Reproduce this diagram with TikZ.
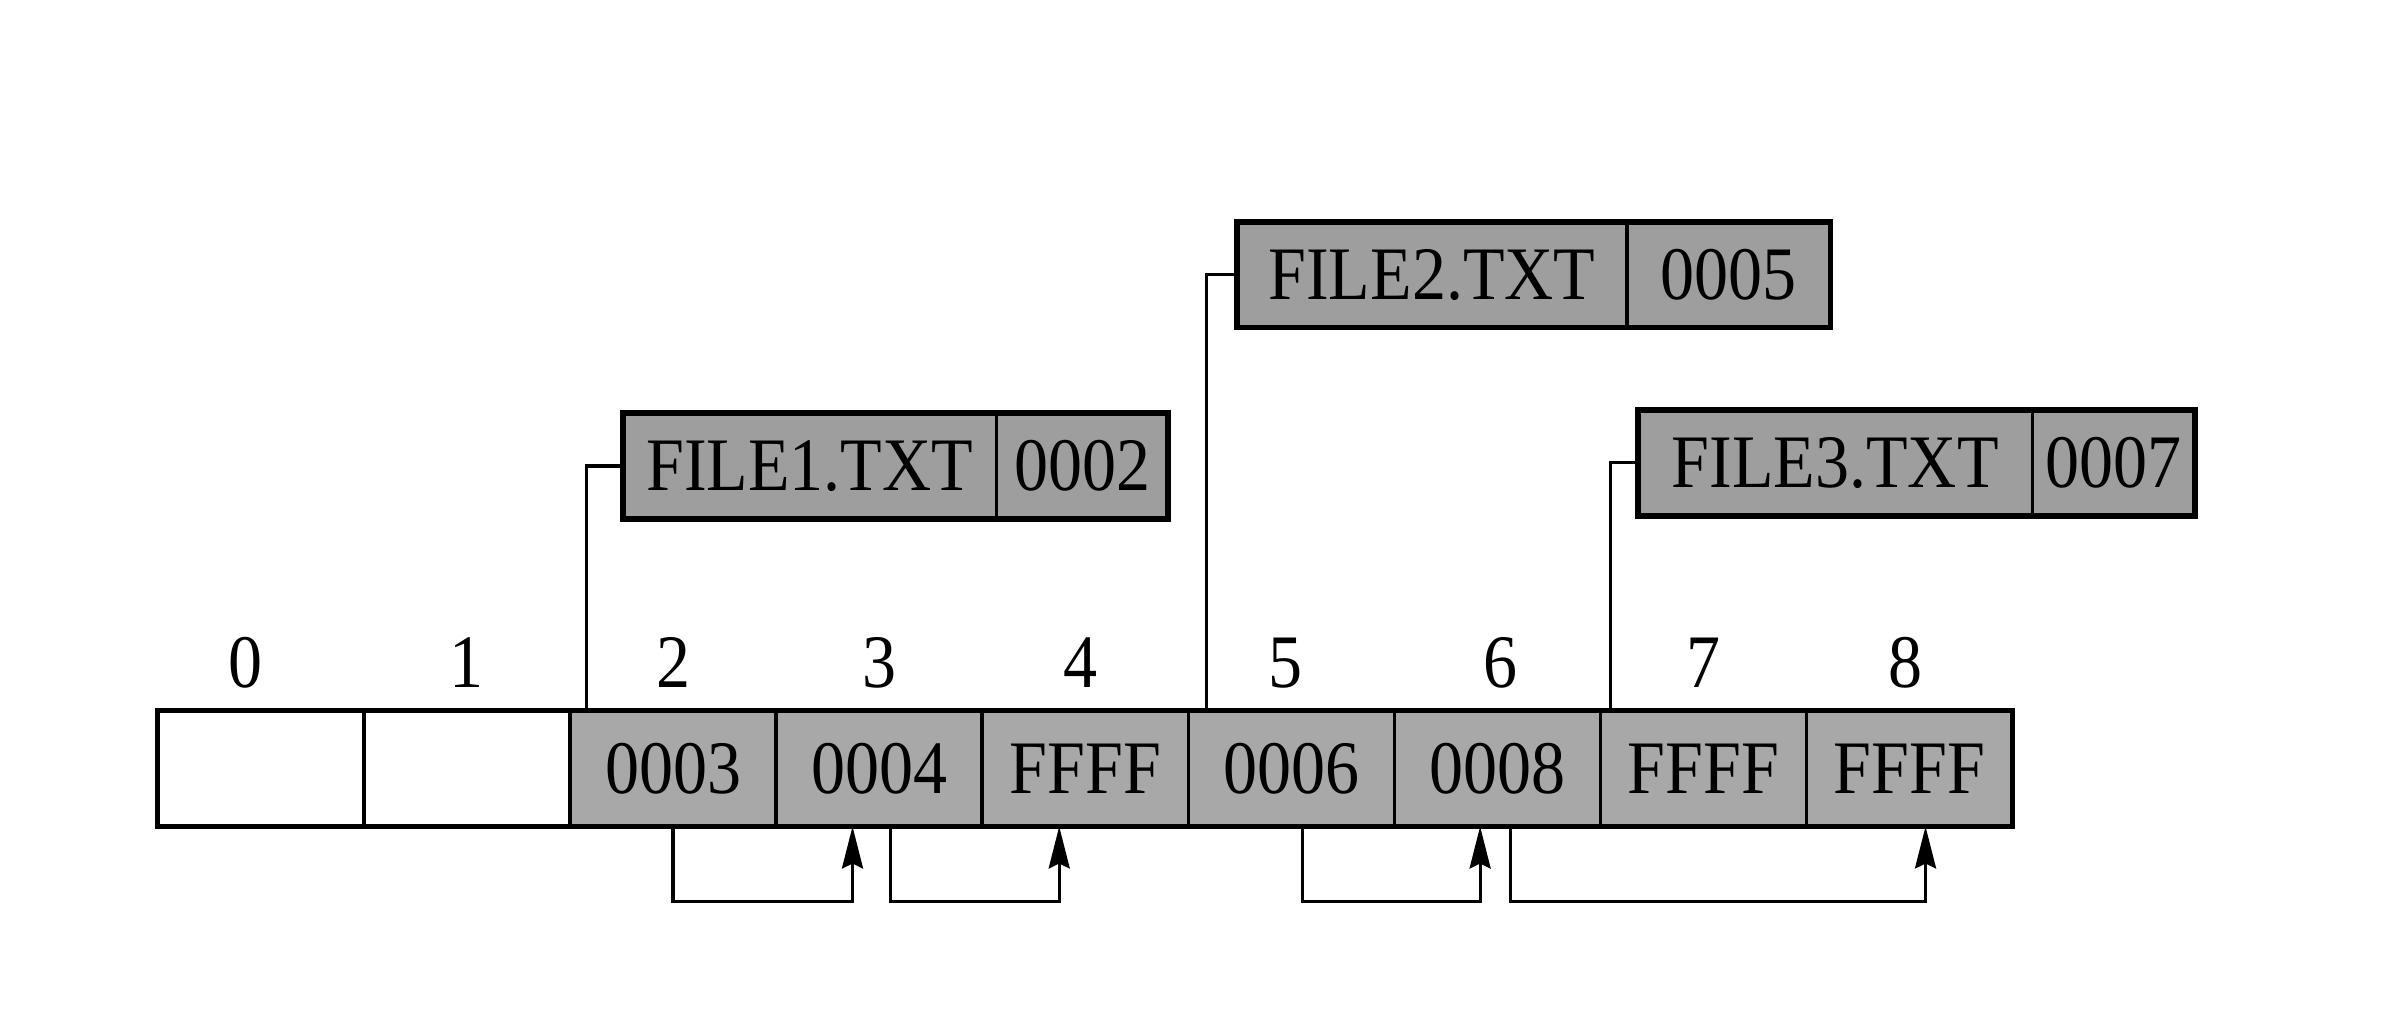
\documentclass[tikz,border=0pt]{standalone}
\usepackage{fontspec}
\setmainfont{Liberation Serif}[FakeStretch=0.9]
\usepackage{tikz}
\usetikzlibrary{calc,arrows.meta}
\definecolor{cellgray}{gray}{0.66}
\definecolor{boxgray}{gray}{0.62}

\begin{document}
\begin{tikzpicture}[
		cell/.style={draw, line width=1pt, inner sep=0pt, outer sep=0pt, minimum width=2.061cm, minimum height=1.164cm, font=\fontsize{21.5}{26}\selectfont},
		usedcell/.style={cell, fill=cellgray},
		entry/.style={draw, line width=1pt, fill=boxgray, inner sep=0pt, outer sep=0pt, minimum height=1.056cm, font=\fontsize{21.5}{26}\selectfont},
		idx/.style={font=\fontsize{21.5}{26}\selectfont},
		link/.style={line width=0.9pt},
		chain/.style={line width=0.9pt, -{Stealth[length=4.2mm,width=2.1mm,inset=0.5mm]}}
	]
			\useasboundingbox (0, 0) rectangle (24, 10.34);
			%%%%% START %%%%%
			% FAT row
			\node[cell] (c0) at (2.608, 2.657) {};
			\node[cell] (c1) at (4.669, 2.657) {};
			\node[usedcell] (c2) at (6.730, 2.657) {0003};
			\node[usedcell] (c3) at (8.791, 2.657) {0004};
			\node[usedcell] (c4) at (10.852, 2.657) {FFFF};
			\node[usedcell] (c5) at (12.913, 2.657) {0006};
			\node[usedcell] (c6) at (14.974, 2.657) {0008};
			\node[usedcell] (c7) at (17.035, 2.657) {FFFF};
			\node[usedcell] (c8) at (19.096, 2.657) {FFFF};
			\draw[line width=1.4pt] (c0.north west) rectangle (c8.south east);
			
			% cluster numbers
			\node[idx] (n0) at (2.45, 3.713) {0};
			\node[idx] (n1) at (4.669, 3.713) {1};
			\node[idx] (n2) at (6.730, 3.713) {2};
			\node[idx] (n3) at (8.791, 3.713) {3};
			\node[idx] (n4) at (10.80, 3.713) {4};
			\node[idx] (n5) at (12.85, 3.713) {5};
			\node[idx] (n6) at (15.00, 3.713) {6};
			\node[idx] (n7) at (17.035, 3.713) {7};
			\node[idx] (n8) at (19.05, 3.713) {8};
			
			% directory entries
			\node[entry, minimum width=3.734cm] (f1name) at (8.097, 5.680) {FILE1.TXT};
			\node[entry, minimum width=1.715cm] (f1first) at (10.8215, 5.680) {0002};
			\draw[line width=1.6pt] (f1name.north west) rectangle (f1first.south east);
			
			\node[entry, minimum width=3.903cm] (f2name) at (14.3185, 7.593) {FILE2.TXT};
			\node[entry, minimum width=2.036cm] (f2first) at (17.288, 7.593) {0005};
			\draw[line width=1.6pt] (f2name.north west) rectangle (f2first.south east);
			
			\node[entry, minimum width=3.949cm] (f3name) at (18.3515, 5.711) {FILE3.TXT};
			\node[entry, minimum width=1.623cm] (f3first) at (21.1375, 5.711) {0007};
			\draw[line width=1.6pt] (f3name.north west) rectangle (f3first.south east);
			
			% entry -> first cluster
			\draw[link] (f1name.west) -| ($(c2.north west)+(0.163, 0)$);
			\draw[link] (f2name.west) -| ($(c5.north west)+(0.179, 0)$);
			\draw[link] (f3name.west) -| ($(c7.north west)+(0.098, 0)$);
			
			% cluster chains
			\coordinate (out2) at (c2.south);
			\coordinate (out3) at ($(c3.south)+(0.117, 0)$);
			\coordinate (out5) at ($(c5.south)+(0.112, 0)$);
			\coordinate (out6) at ($(c6.south)+(0.133, 0)$);
			\coordinate (in3) at ($(c3.south)+(-0.266, 0)$);
			\coordinate (in4) at ($(c4.south)+(-0.260, 0)$);
			\coordinate (in6) at ($(c6.south)+(-0.173, 0)$);
			\coordinate (in8) at ($(c8.south)+(0.159, 0)$);
			\draw[chain] (out2) -- ++(0, -0.75) -| (in3);
			\draw[chain] (out3) -- ++(0, -0.75) -| (in4);
			\draw[chain] (out5) -- ++(0, -0.75) -| (in6);
			\draw[chain] (out6) -- ++(0, -0.75) -| (in8);
			%%%%% END %%%%%
		\end{tikzpicture}
\end{document}
